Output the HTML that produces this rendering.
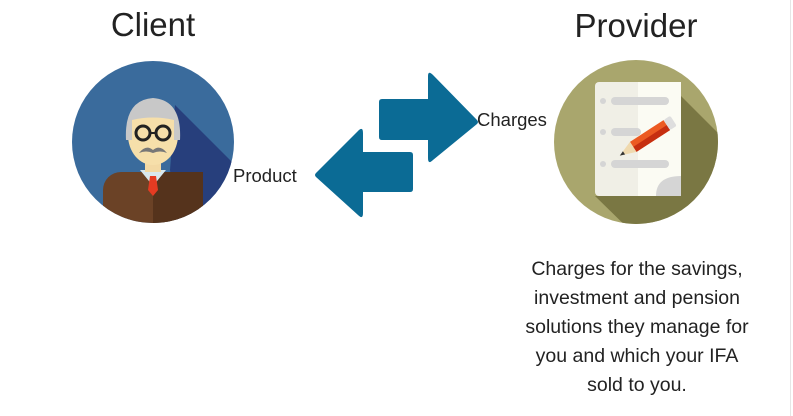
<!DOCTYPE html>
<html><head><meta charset="utf-8"><style>
html,body{margin:0;padding:0;background:#fff;width:793px;height:416px;overflow:hidden}
svg{display:block}
text{font-family:"Liberation Sans",sans-serif;fill:#222}
</style></head><body>
<svg width="793" height="416" viewBox="0 0 793 416">
<defs>
<clipPath id="c1"><circle cx="153" cy="142" r="81"/></clipPath>
<clipPath id="c2"><circle cx="636" cy="142" r="82"/></clipPath>
</defs>
<text x="153" y="36" font-size="33" text-anchor="middle">Client</text>
<text x="636" y="37" font-size="33" text-anchor="middle">Provider</text>

<!-- client -->
<circle cx="153" cy="142" r="81" fill="#3a6b9c"/>
<g clip-path="url(#c1)">
<polygon points="175,105 260,190 260,240 180,240 170,170" fill="#273f7c"/>
<rect x="103" y="172" width="100" height="60" rx="18" fill="#6b4226"/>
<rect x="153" y="172" width="50" height="60" fill="#55331c"/>
<polygon points="140,170 166,170 153,186" fill="#d9e8ee"/>
<polygon points="150,176 156,176 158,190 153,196 148,190" fill="#e53b22"/>
<rect x="145" y="158" width="16" height="14" fill="#f3d9a4"/>
<ellipse cx="153" cy="135" rx="25" ry="30" fill="#f6dfaa"/>
<path d="M126,140 Q124,100 153,98 Q182,100 180,140 L174,140 L174,120 Q153,115 132,120 L132,140Z" fill="#c8c8c8"/>
<circle cx="143" cy="133" r="7" fill="none" stroke="#222" stroke-width="3"/>
<circle cx="163" cy="133" r="7" fill="none" stroke="#222" stroke-width="3"/>
<line x1="150" y1="133" x2="156" y2="133" stroke="#222" stroke-width="2"/>
<path d="M139,153 Q146,144 153,150 Q160,144 167,153 Q160,150 153,153 Q146,150 139,153Z" fill="#777"/>
</g>
<text x="233" y="182" font-size="18.5">Product</text>

<!-- arrows -->
<path d="M382,99 H428 V76 Q428,70 433,75 L477,120 Q479,122 477,124 L433,160 Q428,165 428,158 V140 H382 Q379,140 379,137 V102 Q379,99 382,99Z" fill="#0b6b95"/>
<path d="M410,152 H363 V133 Q363,126 358,131 L316,173 Q314,175 316,177 L358,215 Q363,220 363,213 V192 H410 Q413,192 413,189 V155 Q413,152 410,152Z" fill="#0b6b95"/>
<text x="477" y="126" font-size="18.5">Charges</text>

<!-- provider -->
<circle cx="636" cy="142" r="82" fill="#a9a66d"/>
<g clip-path="url(#c2)">
<polygon points="680,95 730,145 730,240 640,240 595,196 680,196" fill="#7a7743"/>
<rect x="595" y="82" width="86" height="114" rx="4" fill="#f0efe6"/>
<rect x="638" y="82" width="43" height="114" fill="#fbfbf3"/>
<path d="M656,196 Q656,176 681,176 V196Z" fill="#d5d5d5"/>
<circle cx="603" cy="101" r="3" fill="#d5d5d5"/>
<rect x="611" y="97" width="58" height="8" rx="4" fill="#d5d5d5"/>
<circle cx="603" cy="132" r="3" fill="#d5d5d5"/>
<rect x="611" y="128" width="30" height="8" rx="4" fill="#d5d5d5"/>
<circle cx="603" cy="164" r="3" fill="#d5d5d5"/>
<rect x="611" y="160" width="58" height="8" rx="4" fill="#d5d5d5"/>
<g transform="rotate(-33 650 136)">
<rect x="630" y="130" width="40" height="12" fill="#ec5a22"/>
<rect x="630" y="136" width="40" height="6" fill="#c62f10"/>
<rect x="670" y="130" width="8" height="12" rx="2" fill="#dedede"/>
<polygon points="630,130 630,142 614,136" fill="#efd9ae"/>
<polygon points="619,134 619,138 614,136" fill="#333"/>
</g>
</g>

<g font-size="19.5" text-anchor="middle">
<text x="637" y="275">Charges for the savings,</text>
<text x="637" y="304">investment and pension</text>
<text x="637" y="333">solutions they manage for</text>
<text x="637" y="362">you and which your IFA</text>
<text x="637" y="391">sold to you.</text>
</g>
<rect x="790" y="0" width="1" height="416" fill="#e6e6e6"/>
</svg>
</body></html>
